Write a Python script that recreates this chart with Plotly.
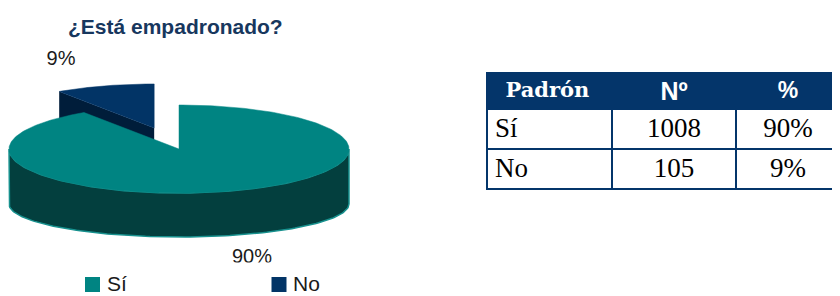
import numpy as np
import plotly.graph_objects as go

# ---------------- data ----------------
categories = ["Sí", "No"]
counts = [1008, 105]
pct_labels = ["90%", "9%"]
table_header = ["Padrón", "Nº", "%"]
title_text = "¿Está empadronado?"

# ---------------- style ----------------
TEAL_TOP = "#008482"
TEAL_SIDE = "#033F3E"
TEAL_EDGE = "#17918E"
NAVY_TOP = "#023466"
NAVY_SIDE = "#001D3A"
NAVY_HDR = "#04356A"
TITLE_COL = "#17375E"

PAGE_W, PAGE_H = 840, 296
OFF = 8                      # default body margin of the html page
W, H = PAGE_W - OFF, PAGE_H - OFF

cx, cy, rx, ry = 179.0, 149.0, 170.0, 44.0   # top ellipse
cy_b, ry_b = 204.0, 33.0                      # bottom ellipse (perspective)
explode = 0.5

total = sum(counts)
spans = [c / total * 360.0 for c in counts]
starts = [0.0, spans[0]]


def rim(x0, y0, rxx, ryy, a0, a1, n=120):
    t = np.radians(np.linspace(a0, a1, n))
    return x0 + rxx * np.sin(t), y0 - ryy * np.cos(t)


fig = go.Figure()

# ---- exploded "No" slice (drawn first, behind) ----
a0, a1 = starts[1], starts[1] + spans[1]
mid = np.radians((a0 + a1) / 2)
ox = rx * explode * np.sin(mid)
oy = -ry * explode * np.cos(mid)
ncx, ncy, ncy_b = cx + ox, cy + oy, cy_b + oy
pxt, pyt = rim(ncx, ncy, rx, ry, a0, a0, 1)
pxb, pyb = rim(ncx, ncy_b, rx, ry_b, a0, a0, 1)
fig.add_trace(go.Scatter(
    x=[ncx, pxt[0], pxb[0], ncx, ncx], y=[ncy, pyt[0], pyb[0], ncy_b, ncy],
    fill="toself", fillcolor=NAVY_SIDE, mode="lines", line=dict(width=0, color=NAVY_SIDE),
    hoverinfo="skip", showlegend=False))
tx, ty = rim(ncx, ncy, rx, ry, a0, a1)
fig.add_trace(go.Scatter(
    x=np.concatenate([[ncx], tx, [ncx]]), y=np.concatenate([[ncy], ty, [ncy]]),
    fill="toself", fillcolor=NAVY_TOP, mode="lines", line=dict(width=0.5, color=NAVY_TOP),
    hoverinfo="skip", showlegend=False))

# ---- "Sí" slice side (front half) ----
s0, s1 = starts[0], starts[0] + spans[0]
fx_t, fy_t = rim(cx, cy, rx, ry, max(90, s0), min(270, s1))
fx_b, fy_b = rim(cx, cy_b, rx, ry_b, min(270, s1), max(90, s0))
fig.add_trace(go.Scatter(
    x=np.concatenate([fx_t, fx_b, fx_t[:1]]), y=np.concatenate([fy_t, fy_b, fy_t[:1]]),
    fill="toself", fillcolor=TEAL_SIDE, mode="lines", line=dict(width=1.5, color=TEAL_EDGE),
    hoverinfo="skip", showlegend=False))
# ---- "Sí" slice top ----
sx, sy = rim(cx, cy, rx, ry, s0, s1, 300)
fig.add_trace(go.Scatter(
    x=np.concatenate([[cx], sx, [cx]]), y=np.concatenate([[cy], sy, [cy]]),
    fill="toself", fillcolor=TEAL_TOP, mode="lines", line=dict(width=0.5, color=TEAL_TOP),
    hoverinfo="skip", showlegend=False))

# ---- percentage labels ----
fig.add_trace(go.Scatter(
    x=[252, 61], y=[257.5, 59.5], text=pct_labels, mode="text",
    textfont=dict(family="Liberation Sans, Arial", size=20, color="#1a1a1a"),
    textposition="middle center", hoverinfo="skip", showlegend=False, cliponaxis=False))

# ---- legend (markers + text) ----
leg_x = [92.5, 279.0]
leg_colors = [TEAL_TOP, NAVY_TOP]
fig.add_trace(go.Scatter(
    x=leg_x, y=[284.5, 284.5], mode="markers",
    marker=dict(symbol="square", size=15, color=leg_colors, line=dict(width=0)),
    hoverinfo="skip", showlegend=False, cliponaxis=False))
for lx, lab in zip(leg_x, categories):
    fig.add_annotation(x=lx + 12, y=283.5, text=lab, showarrow=False, xanchor="left",
                       yanchor="middle", font=dict(family="Liberation Sans, Arial", size=21,
                                                   color="#1a1a1a"))

# title
fig.add_annotation(x=175, y=26.5, text=f"<b>{title_text}</b>", showarrow=False,
                   xanchor="center", yanchor="middle",
                   font=dict(family="Liberation Sans, Arial", size=21, color=TITLE_COL))

# white band that clips the bottom of the 90% label (chart area edge)
fig.add_shape(type="rect", x0=220, x1=285, y0=262.5, y1=272, layer="above",
              fillcolor="white", line=dict(width=0))

# ---- table ----
tbl_x0, tbl_x1 = 487, 840
tbl_y0, tbl_y1 = 73, 192
hdr_vals = ["\u2002" + table_header[0]] + table_header[1:]
fig.add_trace(go.Table(
    domain=dict(x=[(tbl_x0 - OFF) / W, (tbl_x1 - OFF) / W],
                y=[1 - (tbl_y1 - OFF) / H, 1 - (tbl_y0 - OFF) / H]),
    columnwidth=[125, 124, 104],
    header=dict(
        values=hdr_vals,
        fill_color=NAVY_HDR,
        line=dict(color=NAVY_HDR, width=2),
        align=["left", "center", "center"],
        height=36,
        font=dict(family=["DejaVu Serif", "Liberation Sans", "Liberation Sans"],
                  size=[21, 25, 23], color="white", weight="bold"),
    ),
    cells=dict(
        values=[categories, counts, pct_labels],
        fill_color="white",
        line=dict(color=NAVY_HDR, width=2),
        align=["left", "center", "center"],
        height=40,
        font=dict(family="Liberation Serif", size=27, color="black"),
    ),
))

fig.update_layout(
    width=W, height=H,
    margin=dict(l=0, r=0, t=0, b=0),
    paper_bgcolor="white", plot_bgcolor="white",
    xaxis=dict(range=[OFF, PAGE_W], visible=False, fixedrange=True),
    yaxis=dict(range=[PAGE_H, OFF], visible=False, fixedrange=True),
    showlegend=False,
)

fig.write_html("out.html")
